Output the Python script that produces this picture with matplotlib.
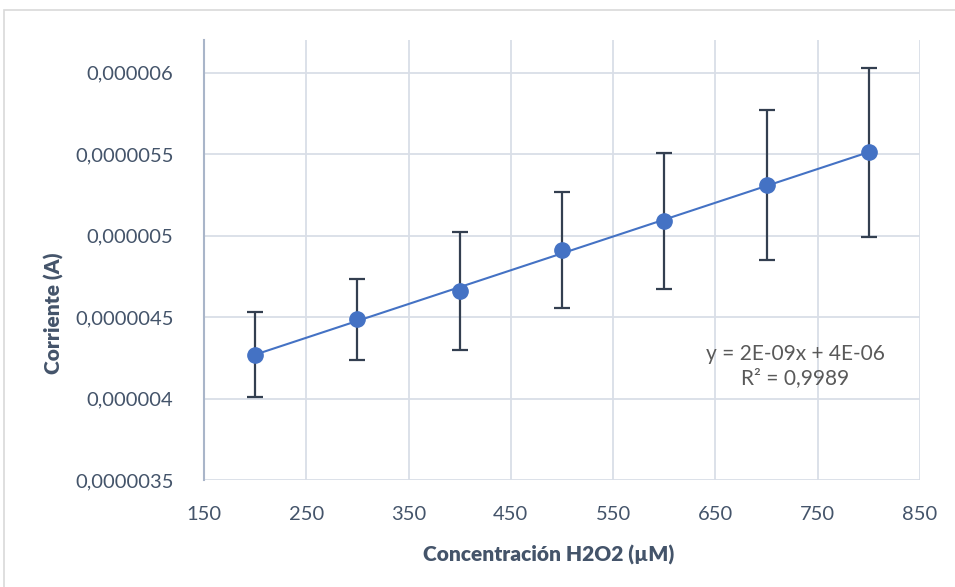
import numpy as np
import matplotlib
matplotlib.use("Agg")
import matplotlib.pyplot as plt
from matplotlib.patches import Rectangle
from matplotlib.ticker import FixedLocator

conc = [200, 300, 400, 500, 600, 700, 800]
current = [4.27e-6, 4.485e-6, 4.66e-6, 4.91e-6, 5.09e-6, 5.31e-6, 5.51e-6]
err = [0.26e-6, 0.25e-6, 0.36e-6, 0.355e-6, 0.415e-6, 0.46e-6, 0.52e-6]
xticks = [150, 250, 350, 450, 550, 650, 750, 850]
yticks = [3.5e-6, 4.0e-6, 4.5e-6, 5.0e-6, 5.5e-6, 6.0e-6]
ytick_labels = ["0,0000035", "0,000004", "0,0000045", "0,000005", "0,0000055", "0,000006"]
eq_text = "y = 2E-09x + 4E-06\nR² = 0,9989"

plt.rcParams['font.family'] = ['Lato', 'DejaVu Sans']
txt_col = "#44546A"
grid_col = "#D9DEE7"

fig = plt.figure(figsize=(9.55, 5.87), dpi=100)
fig.patches.append(Rectangle((4/955, -0.1), 1.2, 1 - 10/587 + 0.1, transform=fig.transFigure,
                             fill=False, edgecolor="#D9D9D9", linewidth=1.2))
ax = fig.add_axes([204/955, 1 - 480/587, (920 - 204)/955, (480 - 40)/587])

ax.set_xlim(150, 850)
ax.set_ylim(3.5e-6, 6.2e-6)
ax.xaxis.set_major_locator(FixedLocator(xticks))
ax.yaxis.set_major_locator(FixedLocator(yticks))
ax.set_yticklabels(ytick_labels)
ax.grid(True, color=grid_col, linewidth=1.3)
ax.set_axisbelow(True)
for s in ["top", "right", "bottom"]:
    ax.spines[s].set_visible(False)
ax.spines["left"].set_color("#A9B5C9")
ax.spines["left"].set_linewidth(1.5)
ax.tick_params(axis="both", length=0, colors=txt_col, labelsize=14.5)
ax.tick_params(axis="y", pad=22)
ax.tick_params(axis="x", pad=19)

# trendline
coef = np.polyfit(conc, current, 1)
xs = np.array([conc[0], conc[-1]])
ax.plot(xs, np.polyval(coef, xs), color="#4472C4", linewidth=1.5, zorder=3)

ax.errorbar(conc, current, yerr=err, fmt="none", ecolor="#333F50", elinewidth=1.6,
            capsize=5.5, capthick=1.6, zorder=2)
ax.plot(conc, current, "o", color="#4472C4", markersize=11, zorder=4)

ax.text(728, 4.2e-6, eq_text, ha="center", va="center", fontsize=15, color="#595959",
        linespacing=1.3)

ax.set_xlabel("Concentración H2O2 (µM)", fontsize=15, fontweight="heavy", color=txt_col)
ax.set_ylabel("Corriente (A)", fontsize=15, fontweight="heavy", color=txt_col)
ax.xaxis.set_label_coords((549 - 204) / 716, -(545 - 480) / 440)
ax.yaxis.set_label_coords((64 - 204) / 716, (480 - 313) / 440)

fig.savefig("out.png", dpi=100)
